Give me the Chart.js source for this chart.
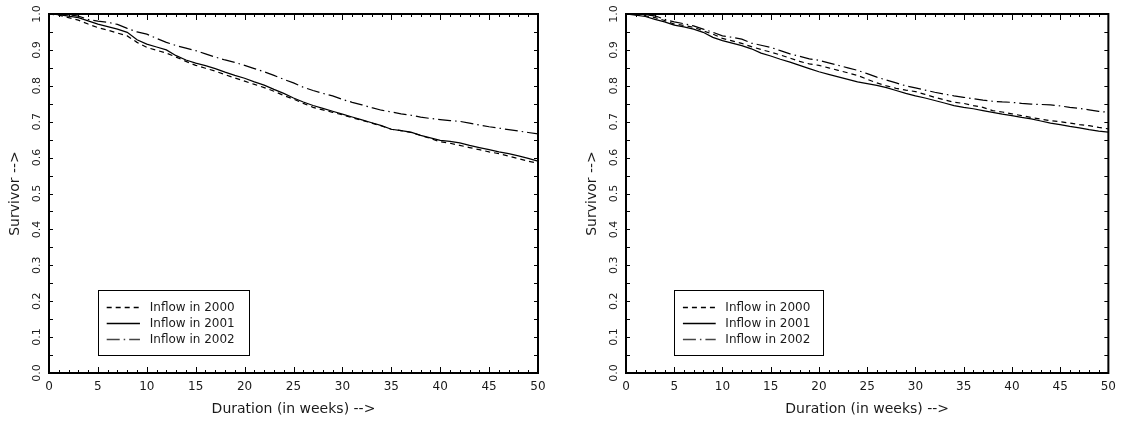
<!DOCTYPE html>
<html>
<head>
<meta charset="utf-8">
<script src="https://cdn.jsdelivr.net/npm/chart.js@4.4.1/dist/chart.umd.min.js"></script>
<style>
  html, body { margin: 0; padding: 0; background: #fff; }
  #wrap { position: relative; width: 1123px; height: 421px; overflow: hidden; }
  .panel { position: absolute; top: 0; height: 421px; }
  #p1 { left: 0; width: 561px; }
  #p2 { left: 561px; width: 562px; }
</style>
</head>
<body>
<div id="wrap">
  <div class="panel" id="p1"><canvas id="left"></canvas></div>
  <div class="panel" id="p2"><canvas id="right"></canvas></div>
</div>
<script>
// weeks since inflow
const weeks = [0, 1, 2, 3, 4, 5, 6, 7, 8, 9, 10, 11, 12, 13, 14, 15, 16, 17, 18, 19, 20,
  21, 22, 23, 24, 25, 26, 27, 28, 29, 30, 31, 32, 33, 34, 35, 36, 37, 38, 39, 40,
  41, 42, 43, 44, 45, 46, 47, 48, 49, 50];

// left panel
const left2000 = [1.000, 0.997, 0.990, 0.983, 0.972, 0.962, 0.955, 0.947, 0.939, 0.921, 0.907,
  0.899, 0.891, 0.880, 0.868, 0.857, 0.849, 0.841, 0.831, 0.822, 0.813,
  0.804, 0.795, 0.785, 0.773, 0.763, 0.751, 0.740, 0.733, 0.726, 0.719,
  0.711, 0.704, 0.696, 0.688, 0.679, 0.675, 0.670, 0.662, 0.653, 0.644,
  0.640, 0.634, 0.628, 0.622, 0.616, 0.611, 0.604, 0.597, 0.590, 0.584];
const left2001 = [1.000, 0.998, 0.994, 0.990, 0.981, 0.972, 0.965, 0.958, 0.949, 0.928, 0.916,
  0.908, 0.900, 0.884, 0.872, 0.863, 0.856, 0.848, 0.838, 0.829, 0.821,
  0.811, 0.802, 0.790, 0.779, 0.766, 0.755, 0.745, 0.737, 0.729, 0.721,
  0.713, 0.705, 0.697, 0.689, 0.679, 0.675, 0.671, 0.662, 0.655, 0.648,
  0.645, 0.641, 0.634, 0.628, 0.622, 0.616, 0.611, 0.605, 0.598, 0.590];
const left2002 = [1.000, 1.000, 0.998, 0.994, 0.985, 0.980, 0.977, 0.971, 0.960, 0.950, 0.944,
  0.932, 0.921, 0.912, 0.905, 0.898, 0.889, 0.880, 0.872, 0.865, 0.857,
  0.848, 0.839, 0.829, 0.818, 0.808, 0.796, 0.787, 0.779, 0.772, 0.762,
  0.754, 0.747, 0.739, 0.732, 0.727, 0.722, 0.718, 0.713, 0.709, 0.706,
  0.703, 0.701, 0.696, 0.691, 0.686, 0.682, 0.678, 0.674, 0.670, 0.666];

// right panel
const right2000 = [1.000, 0.998, 0.995, 0.990, 0.982, 0.972, 0.968, 0.963, 0.953, 0.944, 0.932,
  0.925, 0.918, 0.909, 0.901, 0.894, 0.886, 0.877, 0.868, 0.861, 0.857,
  0.850, 0.843, 0.836, 0.829, 0.818, 0.808, 0.800, 0.793, 0.788, 0.784,
  0.776, 0.768, 0.761, 0.754, 0.751, 0.745, 0.740, 0.731, 0.727, 0.722,
  0.717, 0.712, 0.707, 0.703, 0.700, 0.696, 0.692, 0.689, 0.684, 0.680];
const right2001 = [1.000, 0.997, 0.993, 0.985, 0.978, 0.969, 0.964, 0.958, 0.949, 0.935, 0.926,
  0.919, 0.912, 0.903, 0.891, 0.883, 0.874, 0.866, 0.857, 0.848, 0.839,
  0.832, 0.825, 0.818, 0.811, 0.806, 0.801, 0.795, 0.787, 0.779, 0.772,
  0.766, 0.759, 0.752, 0.745, 0.740, 0.736, 0.731, 0.726, 0.721, 0.717,
  0.712, 0.708, 0.702, 0.696, 0.692, 0.687, 0.683, 0.678, 0.674, 0.671];
const right2002 = [1.000, 1.000, 0.998, 0.995, 0.985, 0.978, 0.973, 0.967, 0.958, 0.949, 0.939,
  0.935, 0.930, 0.919, 0.913, 0.907, 0.898, 0.889, 0.882, 0.875, 0.871,
  0.864, 0.857, 0.850, 0.843, 0.834, 0.824, 0.816, 0.808, 0.800, 0.794,
  0.788, 0.782, 0.777, 0.772, 0.768, 0.764, 0.760, 0.757, 0.755, 0.754,
  0.751, 0.749, 0.748, 0.747, 0.744, 0.740, 0.737, 0.733, 0.729, 0.726];

const seriesLabels = ['Inflow in 2000', 'Inflow in 2001', 'Inflow in 2002'];
const xTickLabels = [0, 5, 10, 15, 20, 25, 30, 35, 40, 45, 50];
const yTickLabels = ['0.0', '0.1', '0.2', '0.3', '0.4', '0.5', '0.6', '0.7', '0.8', '0.9', '1.0'];

const FONT = 'DejaVu Sans';
const INK = '#1a1a1a';
const dashes = [[5, 4], [], [13, 4, 1.5, 4]];

/**
 * Frame, inward ticks, rotated y labels and the boxed legend
 */
const framePlugin = {
  id: 'frame',
  afterDatasetsDraw(chart) {
    const { ctx, chartArea: a, scales: { x, y } } = chart;
    ctx.save();
    ctx.strokeStyle = '#000';

    // minor/major ticks, pointing into the plot
    ctx.lineWidth = 1;
    ctx.beginPath();
    for (let i = 0; i <= 50; i++) {
      const px = Math.round(x.getPixelForValue(i)) + 0.5;
      const len = i % 5 === 0 ? 6 : 3;
      ctx.moveTo(px, a.bottom); ctx.lineTo(px, a.bottom - len);
      ctx.moveTo(px, a.top); ctx.lineTo(px, a.top + len);
    }
    for (let j = 0; j <= 20; j++) {
      const py = Math.round(y.getPixelForValue(j / 20)) + 0.5;
      ctx.moveTo(a.left, py); ctx.lineTo(a.left + 4, py);
      ctx.moveTo(a.right, py); ctx.lineTo(a.right - 4, py);
    }
    ctx.stroke();

    ctx.lineWidth = 2;
    ctx.strokeRect(a.left, a.top, a.right - a.left, a.bottom - a.top);

    // y tick labels, written upwards
    ctx.fillStyle = INK;
    ctx.font = '11px "' + FONT + '"';
    ctx.textAlign = 'center';
    ctx.textBaseline = 'middle';
    yTickLabels.forEach(lbl => {
      const py = y.getPixelForValue(parseFloat(lbl));
      ctx.save();
      ctx.translate(a.left - 12, py);
      ctx.rotate(-Math.PI / 2);
      ctx.fillText(lbl, 0, 0);
      ctx.restore();
    });

    // legend box
    const bx0 = x.getPixelForValue(5), bx1 = x.getPixelForValue(20.4);
    const by0 = y.getPixelForValue(0.23), by1 = y.getPixelForValue(0.05);
    ctx.fillStyle = '#fff';
    ctx.fillRect(bx0, by0, bx1 - bx0, by1 - by0);
    ctx.lineWidth = 1;
    ctx.strokeRect(Math.round(bx0) + 0.5, Math.round(by0) + 0.5, Math.round(bx1 - bx0), Math.round(by1 - by0));
    const rows = [0.183, 0.139, 0.094];
    ctx.font = '12px "' + FONT + '"';
    ctx.textAlign = 'left';
    rows.forEach((v, k) => {
      const py = Math.round(y.getPixelForValue(v)) + 0.5;
      ctx.setLineDash(dashes[k]);
      ctx.lineWidth = 1.3;
      ctx.strokeStyle = k === 2 ? '#444' : '#000';
      ctx.beginPath();
      ctx.moveTo(x.getPixelForValue(5.9), py);
      ctx.lineTo(x.getPixelForValue(9.3), py);
      ctx.stroke();
      ctx.setLineDash([]);
      ctx.fillStyle = INK;
      ctx.fillText(seriesLabels[k], x.getPixelForValue(10.3), py);
    });
    ctx.restore();
  }
};

function makeChart(canvasId, series, padLeft, padRight) {
  const datasets = series.map((vals, k) => ({
    label: seriesLabels[k],
    data: weeks.map((w, i) => ({ x: w, y: vals[i] })),
    borderColor: '#000',
    borderWidth: 1.2,
    borderDash: dashes[k],
    pointRadius: 0,
    tension: 0,
    fill: false
  }));

  return new Chart(document.getElementById(canvasId).getContext('2d'), {
    type: 'line',
    data: { datasets },
    options: {
      responsive: true,
      maintainAspectRatio: false,
      animation: false,
      devicePixelRatio: 1,
      layout: { padding: { left: padLeft, right: padRight, top: 14, bottom: 0 } },
      scales: {
        x: {
          type: 'linear',
          min: 0,
          max: 50,
          grid: { display: false, drawTicks: false },
          border: { display: false },
          afterBuildTicks: scale => { scale.ticks = xTickLabels.map(v => ({ value: v })); },
          afterFit: scale => { scale.height = 48; },
          ticks: {
            color: INK,
            padding: 7,
            maxRotation: 0,
            font: { family: FONT, size: 12 }
          },
          title: {
            display: true,
            text: 'Duration (in weeks) -->',
            color: INK,
            padding: { top: 0, bottom: 3 },
            font: { family: FONT, size: 14 }
          }
        },
        y: {
          type: 'linear',
          min: 0,
          max: 1,
          grid: { display: false, drawTicks: false },
          border: { display: false },
          afterFit: scale => { scale.width = 49; },
          ticks: { display: false },
          title: {
            display: true,
            text: 'Survivor -->',
            color: INK,
            padding: { top: 7, bottom: 0 },
            font: { family: FONT, size: 14 }
          }
        }
      },
      plugins: {
        legend: { display: false },
        tooltip: { enabled: false }
      }
    },
    plugins: [framePlugin]
  });
}

makeChart('left', [left2000, left2001, left2002], 0, 23);
makeChart('right', [right2000, right2001, right2002], 16, 8);
</script>
</body>
</html>
